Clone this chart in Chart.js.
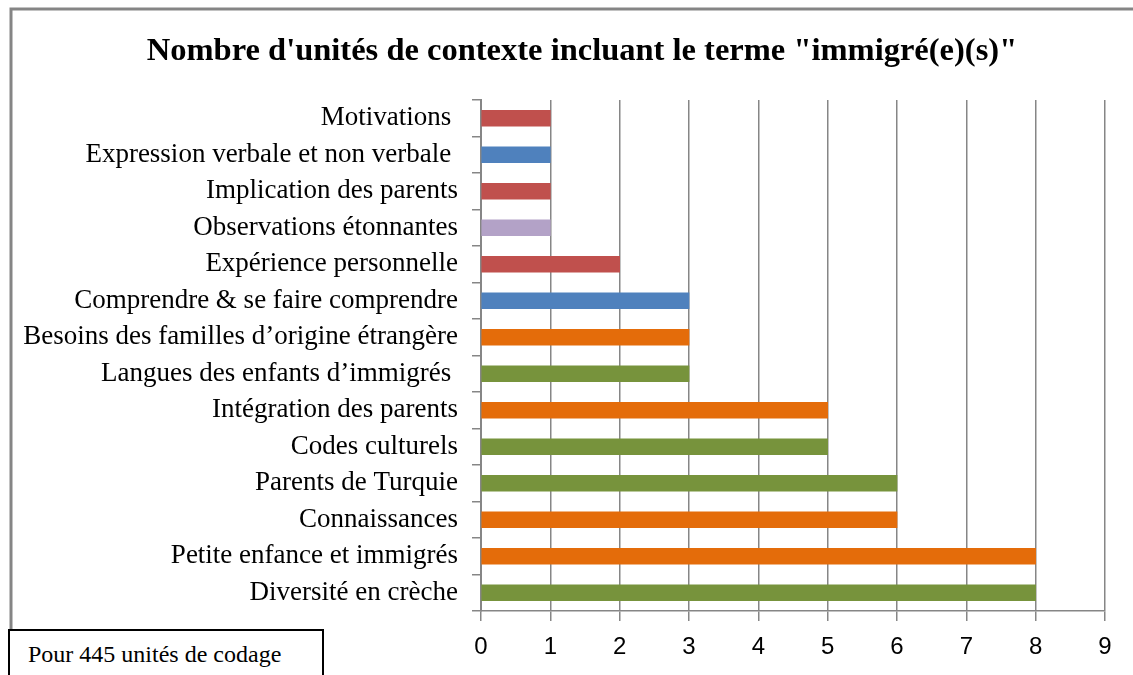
<!DOCTYPE html>
<html>
<head>
<meta charset="utf-8">
<script src="https://cdn.jsdelivr.net/npm/chart.js@4/dist/chart.umd.min.js"></script>
<style>
  html, body { margin: 0; padding: 0; background: #fff; }
  #wrap { position: relative; width: 1133px; height: 675px; overflow: hidden; }
  #note {
    position: absolute; left: 8px; top: 629px; width: 316px; height: 60px;
    border: 2px solid #000; background: #fff; box-sizing: border-box;
    font-family: "Liberation Serif", serif; font-size: 24px; color: #000;
    padding: 10px 0 0 18px;
  }
</style>
</head>
<body>
<div id="wrap">
  <canvas id="chart" width="1133" height="675"></canvas>
  <div id="note">Pour 445 unités de codage</div>
</div>
<script>
// Categories, top to bottom as in the picture
const categories = [
    'Motivations ',
    'Expression verbale et non verbale ',
    'Implication des parents',
    'Observations étonnantes',
    'Expérience personnelle',
    'Comprendre & se faire comprendre',
    'Besoins des familles d’origine étrangère',
    'Langues des enfants d’immigrés ',
    'Intégration des parents',
    'Codes culturels',
    'Parents de Turquie',
    'Connaissances',
    'Petite enfance et immigrés',
    'Diversité en crèche'
];
const counts = [1, 1, 1, 1, 2, 3, 3, 3, 5, 5, 6, 6, 8, 8];
const barColors = [
    '#C0504D', '#4F81BD', '#C0504D', '#B3A2C7', '#C0504D', '#4F81BD', '#E46C0A',
    '#77933C', '#E46C0A', '#77933C', '#77933C', '#E46C0A', '#E46C0A', '#77933C'
];
const xTicks = [0, 1, 2, 3, 4, 5, 6, 7, 8, 9];
const chartTitle = 'Nombre d\'unités de contexte incluant le terme "immigré(e)(s)"';

const gridGray = '#868686';

// outer frame lines (top and left edges) + the title, which sits a bit right of centre
const framePlugin = {
    id: 'frame',
    beforeDraw(chart) {
        const c = chart.ctx;
        c.save();
        c.fillStyle = '#fff';
        c.fillRect(0, 0, chart.width, chart.height);
        c.strokeStyle = '#858585';
        c.lineWidth = 3;
        c.beginPath();
        c.moveTo(11, 675);
        c.lineTo(11, 9);
        c.lineTo(1133, 9);
        c.stroke();
        c.restore();
    },
    afterDraw(chart) {
        const c = chart.ctx;
        c.save();
        c.fillStyle = '#000';
        c.font = 'bold 32.5px "Liberation Serif", serif';
        c.textAlign = 'center';
        c.textBaseline = 'alphabetic';
        c.fillText(chartTitle, 582, 60);
        c.restore();
    }
};

new Chart(document.getElementById('chart').getContext('2d'), {
    type: 'bar',
    data: {
        labels: categories,
        datasets: [{
            data: counts,
            backgroundColor: barColors,
            barThickness: 16
        }]
    },
    options: {
        indexAxis: 'y',
        responsive: false,
        animation: false,
        layout: { padding: { left: 0, right: 28, top: 100, bottom: 0 } },
        plugins: {
            legend: { display: false },
            tooltip: { enabled: false },
            title: { display: false }
        },
        scales: {
            x: {
                min: 0,
                max: 9,
                afterBuildTicks(scale) {
                    scale.ticks = xTicks.map(v => ({ value: v }));
                },
                afterFit(scale) { scale.height = 64; },
                grid: { color: gridGray, lineWidth: 1.5, tickLength: 10 },
                border: { color: gridGray, width: 1.5 },
                ticks: {
                    color: '#000',
                    padding: 12,
                    font: { family: '"Liberation Sans", sans-serif', size: 24 }
                }
            },
            y: {
                afterFit(scale) { scale.width = 481; },
                grid: { drawOnChartArea: false, color: gridGray, lineWidth: 1.5, tickLength: 9 },
                border: { color: gridGray, width: 2 },
                ticks: {
                    color: '#000',
                    padding: 14,
                    font: { family: '"Liberation Serif", serif', size: 27 }
                }
            }
        }
    },
    plugins: [framePlugin]
});
</script>
</body>
</html>
